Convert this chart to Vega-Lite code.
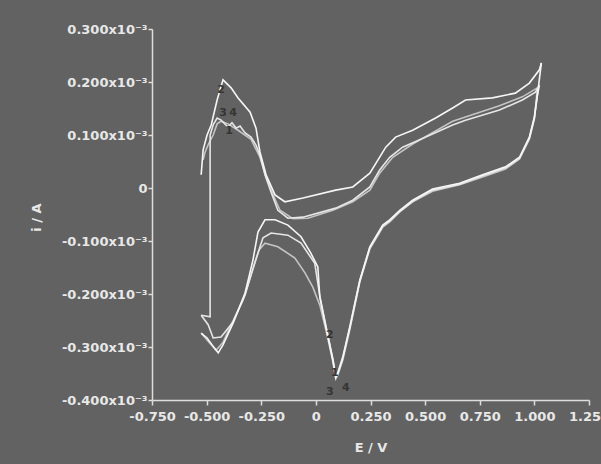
{
  "$schema": "https://vega.github.io/schema/vega-lite/v6.json",
  "width": 437,
  "height": 371,
  "autosize": {"type": "none"},
  "padding": {"left": 152, "top": 29, "right": 12, "bottom": 64},
  "background": "#626262",
  "config": {"view": {"stroke": null}, "font": "DejaVu Sans"},
  "datasets": {
    "curves": [
      {"seg": "3u", "curve": "3", "n": 1, "E": -0.516, "i": 0.053},
      {"seg": "3u", "curve": "3", "n": 2, "E": -0.507, "i": 0.068},
      {"seg": "3u", "curve": "3", "n": 3, "E": -0.489, "i": 0.085},
      {"seg": "3u", "curve": "3", "n": 4, "E": -0.470, "i": 0.100},
      {"seg": "3u", "curve": "3", "n": 5, "E": -0.452, "i": 0.121},
      {"seg": "3u", "curve": "3", "n": 6, "E": -0.434, "i": 0.126},
      {"seg": "3u", "curve": "3", "n": 7, "E": -0.402, "i": 0.121},
      {"seg": "3u", "curve": "3", "n": 8, "E": -0.356, "i": 0.109},
      {"seg": "3u", "curve": "3", "n": 9, "E": -0.297, "i": 0.092},
      {"seg": "3u", "curve": "3", "n": 10, "E": -0.256, "i": 0.058},
      {"seg": "3u", "curve": "3", "n": 11, "E": -0.228, "i": 0.021},
      {"seg": "3u", "curve": "3", "n": 12, "E": -0.196, "i": -0.013},
      {"seg": "3u", "curve": "3", "n": 13, "E": -0.164, "i": -0.042},
      {"seg": "3u", "curve": "3", "n": 14, "E": -0.105, "i": -0.058},
      {"seg": "3u", "curve": "3", "n": 15, "E": -0.037, "i": -0.057},
      {"seg": "3u", "curve": "3", "n": 16, "E": 0.078, "i": -0.042},
      {"seg": "3u", "curve": "3", "n": 17, "E": 0.169, "i": -0.026},
      {"seg": "3u", "curve": "3", "n": 18, "E": 0.247, "i": -0.004},
      {"seg": "3u", "curve": "3", "n": 19, "E": 0.292, "i": 0.028},
      {"seg": "3u", "curve": "3", "n": 20, "E": 0.352, "i": 0.058},
      {"seg": "3u", "curve": "3", "n": 21, "E": 0.443, "i": 0.083},
      {"seg": "3u", "curve": "3", "n": 22, "E": 0.626, "i": 0.126},
      {"seg": "3u", "curve": "3", "n": 23, "E": 0.840, "i": 0.155},
      {"seg": "3u", "curve": "3", "n": 24, "E": 0.945, "i": 0.172},
      {"seg": "3u", "curve": "3", "n": 25, "E": 1.014, "i": 0.189},
      {"seg": "3l", "curve": "3", "n": 1, "E": 1.014, "i": 0.189},
      {"seg": "3l", "curve": "3", "n": 2, "E": 1.000, "i": 0.130},
      {"seg": "3l", "curve": "3", "n": 3, "E": 0.977, "i": 0.092},
      {"seg": "3l", "curve": "3", "n": 4, "E": 0.932, "i": 0.055},
      {"seg": "3l", "curve": "3", "n": 5, "E": 0.868, "i": 0.036},
      {"seg": "3l", "curve": "3", "n": 6, "E": 0.763, "i": 0.021},
      {"seg": "3l", "curve": "3", "n": 7, "E": 0.658, "i": 0.006},
      {"seg": "3l", "curve": "3", "n": 8, "E": 0.534, "i": -0.006},
      {"seg": "3l", "curve": "3", "n": 9, "E": 0.443, "i": -0.026},
      {"seg": "3l", "curve": "3", "n": 10, "E": 0.384, "i": -0.045},
      {"seg": "3l", "curve": "3", "n": 11, "E": 0.338, "i": -0.064},
      {"seg": "3l", "curve": "3", "n": 12, "E": 0.306, "i": -0.074},
      {"seg": "3l", "curve": "3", "n": 13, "E": 0.247, "i": -0.115},
      {"seg": "3l", "curve": "3", "n": 14, "E": 0.201, "i": -0.177},
      {"seg": "3l", "curve": "3", "n": 15, "E": 0.155, "i": -0.268},
      {"seg": "3l", "curve": "3", "n": 16, "E": 0.123, "i": -0.325},
      {"seg": "3l", "curve": "3", "n": 17, "E": 0.100, "i": -0.353},
      {"seg": "3l", "curve": "3", "n": 18, "E": 0.091, "i": -0.360},
      {"seg": "3l", "curve": "3", "n": 19, "E": 0.078, "i": -0.328},
      {"seg": "3l", "curve": "3", "n": 20, "E": 0.046, "i": -0.268},
      {"seg": "3l", "curve": "3", "n": 21, "E": 0.018, "i": -0.221},
      {"seg": "3l", "curve": "3", "n": 22, "E": -0.014, "i": -0.187},
      {"seg": "3l", "curve": "3", "n": 23, "E": -0.050, "i": -0.160},
      {"seg": "3l", "curve": "3", "n": 24, "E": -0.096, "i": -0.132},
      {"seg": "3l", "curve": "3", "n": 25, "E": -0.174, "i": -0.111},
      {"seg": "3l", "curve": "3", "n": 26, "E": -0.233, "i": -0.104},
      {"seg": "3l", "curve": "3", "n": 27, "E": -0.260, "i": -0.117},
      {"seg": "3l", "curve": "3", "n": 28, "E": -0.297, "i": -0.164},
      {"seg": "3l", "curve": "3", "n": 29, "E": -0.333, "i": -0.211},
      {"seg": "3l", "curve": "3", "n": 30, "E": -0.388, "i": -0.258},
      {"seg": "3l", "curve": "3", "n": 31, "E": -0.425, "i": -0.291},
      {"seg": "3l", "curve": "3", "n": 32, "E": -0.457, "i": -0.306},
      {"seg": "3l", "curve": "3", "n": 33, "E": -0.489, "i": -0.291},
      {"seg": "3l", "curve": "3", "n": 34, "E": -0.525, "i": -0.274},
      {"seg": "1u", "curve": "1", "n": 1, "E": -0.525, "i": -0.240},
      {"seg": "1u", "curve": "1", "n": 2, "E": -0.484, "i": -0.243},
      {"seg": "1u", "curve": "1", "n": 3, "E": -0.484, "i": 0.100},
      {"seg": "1u", "curve": "1", "n": 4, "E": -0.470, "i": 0.119},
      {"seg": "1u", "curve": "1", "n": 5, "E": -0.452, "i": 0.132},
      {"seg": "1u", "curve": "1", "n": 6, "E": -0.434, "i": 0.128},
      {"seg": "1u", "curve": "1", "n": 7, "E": -0.402, "i": 0.115},
      {"seg": "1u", "curve": "1", "n": 8, "E": -0.384, "i": 0.123},
      {"seg": "1u", "curve": "1", "n": 9, "E": -0.365, "i": 0.113},
      {"seg": "1u", "curve": "1", "n": 10, "E": -0.347, "i": 0.117},
      {"seg": "1u", "curve": "1", "n": 11, "E": -0.324, "i": 0.104},
      {"seg": "1u", "curve": "1", "n": 12, "E": -0.297, "i": 0.096},
      {"seg": "1u", "curve": "1", "n": 13, "E": -0.274, "i": 0.081},
      {"seg": "1u", "curve": "1", "n": 14, "E": -0.256, "i": 0.062},
      {"seg": "1u", "curve": "1", "n": 15, "E": -0.233, "i": 0.025},
      {"seg": "1u", "curve": "1", "n": 16, "E": -0.205, "i": -0.008},
      {"seg": "1u", "curve": "1", "n": 17, "E": -0.174, "i": -0.042},
      {"seg": "1u", "curve": "1", "n": 18, "E": -0.128, "i": -0.057},
      {"seg": "1u", "curve": "1", "n": 19, "E": -0.059, "i": -0.055},
      {"seg": "1u", "curve": "1", "n": 20, "E": 0.091, "i": -0.038},
      {"seg": "1u", "curve": "1", "n": 21, "E": 0.169, "i": -0.023},
      {"seg": "1u", "curve": "1", "n": 22, "E": 0.247, "i": 0.002},
      {"seg": "1u", "curve": "1", "n": 23, "E": 0.292, "i": 0.034},
      {"seg": "1u", "curve": "1", "n": 24, "E": 0.338, "i": 0.058},
      {"seg": "1u", "curve": "1", "n": 25, "E": 0.397, "i": 0.077},
      {"seg": "1u", "curve": "1", "n": 26, "E": 0.475, "i": 0.091},
      {"seg": "1u", "curve": "1", "n": 27, "E": 0.626, "i": 0.119},
      {"seg": "1u", "curve": "1", "n": 28, "E": 0.685, "i": 0.128},
      {"seg": "1u", "curve": "1", "n": 29, "E": 0.840, "i": 0.147},
      {"seg": "1u", "curve": "1", "n": 30, "E": 0.945, "i": 0.166},
      {"seg": "1u", "curve": "1", "n": 31, "E": 1.005, "i": 0.181},
      {"seg": "1u", "curve": "1", "n": 32, "E": 1.023, "i": 0.194},
      {"seg": "1l", "curve": "1", "n": 1, "E": 1.023, "i": 0.194},
      {"seg": "1l", "curve": "1", "n": 2, "E": 1.014, "i": 0.175},
      {"seg": "1l", "curve": "1", "n": 3, "E": 1.000, "i": 0.132},
      {"seg": "1l", "curve": "1", "n": 4, "E": 0.977, "i": 0.094},
      {"seg": "1l", "curve": "1", "n": 5, "E": 0.932, "i": 0.056},
      {"seg": "1l", "curve": "1", "n": 6, "E": 0.868, "i": 0.038},
      {"seg": "1l", "curve": "1", "n": 7, "E": 0.763, "i": 0.023},
      {"seg": "1l", "curve": "1", "n": 8, "E": 0.658, "i": 0.007},
      {"seg": "1l", "curve": "1", "n": 9, "E": 0.534, "i": -0.004},
      {"seg": "1l", "curve": "1", "n": 10, "E": 0.443, "i": -0.025},
      {"seg": "1l", "curve": "1", "n": 11, "E": 0.384, "i": -0.044},
      {"seg": "1l", "curve": "1", "n": 12, "E": 0.338, "i": -0.062},
      {"seg": "1l", "curve": "1", "n": 13, "E": 0.306, "i": -0.072},
      {"seg": "1l", "curve": "1", "n": 14, "E": 0.247, "i": -0.113},
      {"seg": "1l", "curve": "1", "n": 15, "E": 0.201, "i": -0.176},
      {"seg": "1l", "curve": "1", "n": 16, "E": 0.155, "i": -0.265},
      {"seg": "1l", "curve": "1", "n": 17, "E": 0.123, "i": -0.322},
      {"seg": "1l", "curve": "1", "n": 18, "E": 0.100, "i": -0.351},
      {"seg": "1l", "curve": "1", "n": 19, "E": 0.091, "i": -0.355},
      {"seg": "1l", "curve": "1", "n": 20, "E": 0.078, "i": -0.323},
      {"seg": "1l", "curve": "1", "n": 21, "E": 0.046, "i": -0.260},
      {"seg": "1l", "curve": "1", "n": 22, "E": 0.018, "i": -0.204},
      {"seg": "1l", "curve": "1", "n": 23, "E": -0.005, "i": -0.142},
      {"seg": "1l", "curve": "1", "n": 24, "E": -0.068, "i": -0.104},
      {"seg": "1l", "curve": "1", "n": 25, "E": -0.128, "i": -0.089},
      {"seg": "1l", "curve": "1", "n": 26, "E": -0.205, "i": -0.085},
      {"seg": "1l", "curve": "1", "n": 27, "E": -0.242, "i": -0.094},
      {"seg": "1l", "curve": "1", "n": 28, "E": -0.279, "i": -0.140},
      {"seg": "1l", "curve": "1", "n": 29, "E": -0.324, "i": -0.202},
      {"seg": "1l", "curve": "1", "n": 30, "E": -0.379, "i": -0.253},
      {"seg": "1l", "curve": "1", "n": 31, "E": -0.434, "i": -0.281},
      {"seg": "1l", "curve": "1", "n": 32, "E": -0.470, "i": -0.283},
      {"seg": "1l", "curve": "1", "n": 33, "E": -0.493, "i": -0.258},
      {"seg": "1l", "curve": "1", "n": 34, "E": -0.525, "i": -0.240},
      {"seg": "2u", "curve": "2", "n": 1, "E": -0.525, "i": 0.025},
      {"seg": "2u", "curve": "2", "n": 2, "E": -0.516, "i": 0.072},
      {"seg": "2u", "curve": "2", "n": 3, "E": -0.498, "i": 0.100},
      {"seg": "2u", "curve": "2", "n": 4, "E": -0.479, "i": 0.119},
      {"seg": "2u", "curve": "2", "n": 5, "E": -0.452, "i": 0.166},
      {"seg": "2u", "curve": "2", "n": 6, "E": -0.425, "i": 0.204},
      {"seg": "2u", "curve": "2", "n": 7, "E": -0.388, "i": 0.189},
      {"seg": "2u", "curve": "2", "n": 8, "E": -0.356, "i": 0.170},
      {"seg": "2u", "curve": "2", "n": 9, "E": -0.301, "i": 0.143},
      {"seg": "2u", "curve": "2", "n": 10, "E": -0.274, "i": 0.113},
      {"seg": "2u", "curve": "2", "n": 11, "E": -0.256, "i": 0.068},
      {"seg": "2u", "curve": "2", "n": 12, "E": -0.228, "i": 0.025},
      {"seg": "2u", "curve": "2", "n": 13, "E": -0.187, "i": -0.013},
      {"seg": "2u", "curve": "2", "n": 14, "E": -0.142, "i": -0.026},
      {"seg": "2u", "curve": "2", "n": 15, "E": -0.059, "i": -0.019},
      {"seg": "2u", "curve": "2", "n": 16, "E": 0.091, "i": -0.004},
      {"seg": "2u", "curve": "2", "n": 17, "E": 0.169, "i": 0.002},
      {"seg": "2u", "curve": "2", "n": 18, "E": 0.247, "i": 0.028},
      {"seg": "2u", "curve": "2", "n": 19, "E": 0.320, "i": 0.077},
      {"seg": "2u", "curve": "2", "n": 20, "E": 0.365, "i": 0.096},
      {"seg": "2u", "curve": "2", "n": 21, "E": 0.443, "i": 0.109},
      {"seg": "2u", "curve": "2", "n": 22, "E": 0.548, "i": 0.132},
      {"seg": "2u", "curve": "2", "n": 23, "E": 0.626, "i": 0.151},
      {"seg": "2u", "curve": "2", "n": 24, "E": 0.685, "i": 0.166},
      {"seg": "2u", "curve": "2", "n": 25, "E": 0.808, "i": 0.170},
      {"seg": "2u", "curve": "2", "n": 26, "E": 0.913, "i": 0.179},
      {"seg": "2u", "curve": "2", "n": 27, "E": 0.977, "i": 0.198},
      {"seg": "2u", "curve": "2", "n": 28, "E": 1.023, "i": 0.223},
      {"seg": "2u", "curve": "2", "n": 29, "E": 1.032, "i": 0.236},
      {"seg": "2l", "curve": "2", "n": 1, "E": 1.032, "i": 0.236},
      {"seg": "2l", "curve": "2", "n": 2, "E": 1.018, "i": 0.189},
      {"seg": "2l", "curve": "2", "n": 3, "E": 1.000, "i": 0.134},
      {"seg": "2l", "curve": "2", "n": 4, "E": 0.977, "i": 0.096},
      {"seg": "2l", "curve": "2", "n": 5, "E": 0.932, "i": 0.058},
      {"seg": "2l", "curve": "2", "n": 6, "E": 0.868, "i": 0.040},
      {"seg": "2l", "curve": "2", "n": 7, "E": 0.763, "i": 0.025},
      {"seg": "2l", "curve": "2", "n": 8, "E": 0.658, "i": 0.009},
      {"seg": "2l", "curve": "2", "n": 9, "E": 0.534, "i": -0.002},
      {"seg": "2l", "curve": "2", "n": 10, "E": 0.443, "i": -0.023},
      {"seg": "2l", "curve": "2", "n": 11, "E": 0.384, "i": -0.042},
      {"seg": "2l", "curve": "2", "n": 12, "E": 0.338, "i": -0.060},
      {"seg": "2l", "curve": "2", "n": 13, "E": 0.306, "i": -0.070},
      {"seg": "2l", "curve": "2", "n": 14, "E": 0.247, "i": -0.111},
      {"seg": "2l", "curve": "2", "n": 15, "E": 0.201, "i": -0.174},
      {"seg": "2l", "curve": "2", "n": 16, "E": 0.155, "i": -0.262},
      {"seg": "2l", "curve": "2", "n": 17, "E": 0.123, "i": -0.319},
      {"seg": "2l", "curve": "2", "n": 18, "E": 0.100, "i": -0.349},
      {"seg": "2l", "curve": "2", "n": 19, "E": 0.091, "i": -0.357},
      {"seg": "2l", "curve": "2", "n": 20, "E": 0.078, "i": -0.325},
      {"seg": "2l", "curve": "2", "n": 21, "E": 0.046, "i": -0.262},
      {"seg": "2l", "curve": "2", "n": 22, "E": 0.018, "i": -0.206},
      {"seg": "2l", "curve": "2", "n": 23, "E": 0.009, "i": -0.149},
      {"seg": "2l", "curve": "2", "n": 24, "E": -0.023, "i": -0.123},
      {"seg": "2l", "curve": "2", "n": 25, "E": -0.068, "i": -0.092},
      {"seg": "2l", "curve": "2", "n": 26, "E": -0.128, "i": -0.070},
      {"seg": "2l", "curve": "2", "n": 27, "E": -0.187, "i": -0.060},
      {"seg": "2l", "curve": "2", "n": 28, "E": -0.233, "i": -0.060},
      {"seg": "2l", "curve": "2", "n": 29, "E": -0.265, "i": -0.083},
      {"seg": "2l", "curve": "2", "n": 30, "E": -0.288, "i": -0.136},
      {"seg": "2l", "curve": "2", "n": 31, "E": -0.324, "i": -0.198},
      {"seg": "2l", "curve": "2", "n": 32, "E": -0.379, "i": -0.255},
      {"seg": "2l", "curve": "2", "n": 33, "E": -0.425, "i": -0.296},
      {"seg": "2l", "curve": "2", "n": 34, "E": -0.447, "i": -0.311},
      {"seg": "2l", "curve": "2", "n": 35, "E": -0.475, "i": -0.296},
      {"seg": "2l", "curve": "2", "n": 36, "E": -0.498, "i": -0.283},
      {"seg": "2l", "curve": "2", "n": 37, "E": -0.525, "i": -0.274}
    ],
    "labels": [
      {"label": "2", "E": -0.434, "i": 0.185},
      {"label": "3", "E": -0.425, "i": 0.142},
      {"label": "4", "E": -0.379, "i": 0.142},
      {"label": "1", "E": -0.397, "i": 0.108},
      {"label": "2", "E": 0.064, "i": -0.277},
      {"label": "1", "E": 0.087, "i": -0.349},
      {"label": "3", "E": 0.064, "i": -0.385},
      {"label": "4", "E": 0.137, "i": -0.377}
    ]
  },
  "layer": [
    {
      "data": {"name": "curves"},
      "mark": {"type": "line", "strokeWidth": 1.6},
      "encoding": {
        "x": {
          "field": "E", "type": "quantitative",
          "scale": {"domain": [-0.75, 1.25], "nice": false, "zero": false},
          "axis": {
            "title": "E / V",
            "values": [-0.75, -0.625, -0.5, -0.375, -0.25, -0.125, 0, 0.125, 0.25, 0.375, 0.5, 0.625, 0.75, 0.875, 1, 1.125, 1.25],
            "labelExpr": "abs(datum.value*4 - round(datum.value*4)) > 0.01 ? '' : (abs(datum.value) < 1e-9 ? '0' : (datum.value < 0 ? '-' : '') + format(abs(datum.value), '.3f'))",
            "grid": false, "tickSize": 5, "labelPadding": 5,
            "domainColor": "#dddddd", "tickColor": "#dddddd", "domainWidth": 1.5, "tickWidth": 1.5,
            "labelColor": "#e8e8e8", "labelFont": "DejaVu Sans", "labelFontWeight": "bold", "labelFontSize": 13,
            "labelFlush": false, "labelOverlap": false,
            "titleColor": "#e8e8e8", "titleFont": "DejaVu Sans", "titleFontWeight": "bold", "titleFontSize": 13,
            "titleY": 47, "titleBaseline": "middle"
          }
        },
        "y": {
          "field": "i", "type": "quantitative",
          "scale": {"domain": [-0.4, 0.3], "nice": false, "zero": false},
          "axis": {
            "title": "i / A",
            "values": [-0.4, -0.35, -0.3, -0.25, -0.2, -0.15, -0.1, -0.05, 0, 0.05, 0.1, 0.15, 0.2, 0.25, 0.3],
            "labelExpr": "abs(datum.value*10 - round(datum.value*10)) > 0.01 ? '' : (abs(datum.value) < 1e-9 ? '0' : (datum.value < 0 ? '-' : '') + format(abs(datum.value), '.3f') + 'x10⁻³')",
            "grid": false, "tickSize": 4, "labelPadding": 1,
            "domainColor": "#dddddd", "tickColor": "#dddddd", "domainWidth": 1.5, "tickWidth": 1.5,
            "labelColor": "#e8e8e8", "labelFont": "DejaVu Sans", "labelFontWeight": "bold", "labelFontSize": 13,
            "labelFlush": false, "labelOverlap": false,
            "titleColor": "#e8e8e8", "titleFont": "DejaVu Sans", "titleFontWeight": "bold", "titleFontSize": 13,
            "titleX": -116, "titleY": 188, "titleAlign": "center", "titleBaseline": "middle", "titleAngle": -90
          }
        },
        "detail": {"field": "seg"},
        "order": {"field": "n", "type": "quantitative"},
        "color": {
          "field": "curve", "type": "nominal",
          "scale": {"domain": ["1", "2", "3"], "range": ["#e6e6e6", "#f6f6f6", "#c4c4c4"]},
          "legend": null
        }
      }
    },
    {
      "data": {"name": "labels"},
      "mark": {"type": "text", "font": "DejaVu Sans", "fontWeight": "bold", "fontSize": 11, "color": "#353535"},
      "encoding": {
        "x": {"field": "E", "type": "quantitative"},
        "y": {"field": "i", "type": "quantitative"},
        "text": {"field": "label"}
      }
    }
  ]
}
